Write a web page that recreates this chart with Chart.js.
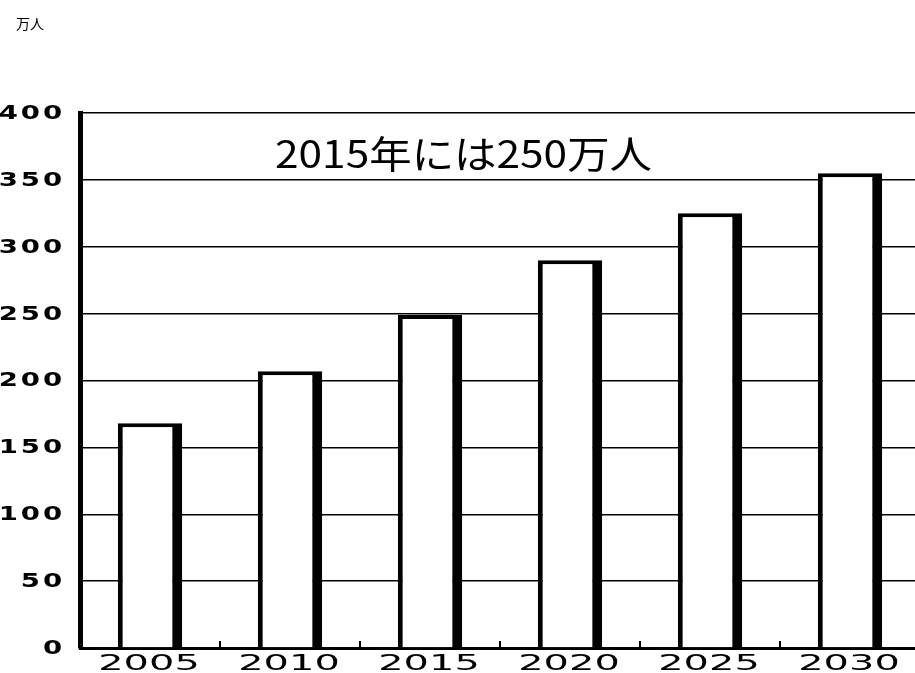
<!DOCTYPE html>
<html>
<head>
<meta charset="utf-8">
<script src="https://cdn.jsdelivr.net/npm/chart.js@4.4.0/dist/chart.umd.min.js"></script>
<style>
    html, body { margin: 0; padding: 0; background: #fff; overflow: hidden; }
    #wrap { position: relative; width: 915px; height: 673px; overflow: hidden; }
    #unit { position: absolute; left: 16px; top: 13px; font: 14px "Noto Sans CJK JP", sans-serif; color: #000; }
    canvas { position: absolute; left: 0; top: 0; }
</style>
</head>
<body>
<div id="wrap">
    <canvas id="popChart" width="920" height="673"></canvas>
    <div id="unit">万人</div>
</div>
<script>
// Data
const years = ['2005', '2010', '2015', '2020', '2025', '2030'];
const people = [168, 207, 249, 290, 325, 355];   // 万人
const yMax = 400;
const yStep = 50;
const note = '2015年には250万人';

// Wide, stretched labels like the scanned original
const wideLabels = {
    id: 'wideLabels',
    afterDraw(chart) {
        const ctx = chart.ctx;
        const xs = chart.scales.x;
        const ys = chart.scales.y;
        const area = chart.chartArea;

        ctx.save();
        ctx.fillStyle = '#000';
        ctx.strokeStyle = '#000';

        // small tick marks between categories, pointing up
        ctx.lineWidth = 2;
        for (let i = 1; i < years.length; i++) {
            const x = (xs.getPixelForValue(i - 1) + xs.getPixelForValue(i)) / 2;
            ctx.beginPath();
            ctx.moveTo(x, area.bottom);
            ctx.lineTo(x, area.bottom - 7);
            ctx.stroke();
        }

        // x labels
        ctx.font = '21px "DejaVu Sans"';
        ctx.letterSpacing = '0px';
        ctx.textAlign = 'center';
        ctx.textBaseline = 'middle';
        years.forEach((y, i) => {
            ctx.save();
            ctx.translate(xs.getPixelForValue(i) - 1, area.bottom + 17);
            ctx.scale(1.9, 1);
            ctx.fillText(y, 0, 0);
            ctx.restore();
        });

        // y labels
        ctx.font = 'bold 19px "DejaVu Sans"';
        ctx.letterSpacing = '2px';
        ctx.textAlign = 'right';
        for (let v = 0; v <= yMax; v += yStep) {
            ctx.save();
            ctx.translate(65, ys.getPixelForValue(v) + 1);
            ctx.scale(1.45, 1);
            ctx.fillText(String(v), 0, 0);
            ctx.restore();
        }

        // note inside the plot
        ctx.letterSpacing = '0px';
        ctx.font = '38px "Noto Sans CJK JP"';
        ctx.textAlign = 'left';
        const w = ctx.measureText(note).width;
        ctx.save();
        ctx.translate(275, 154);
        ctx.scale(377 / w, 1);
        ctx.fillText(note, 0, 0);
        ctx.restore();

        ctx.restore();
    }
};

const ctx = document.getElementById('popChart').getContext('2d');
const popChart = new Chart(ctx, {
    type: 'bar',
    data: {
        labels: years,
        datasets: [{
            data: people,
            backgroundColor: '#fff',
            borderColor: '#000',
            borderWidth: { top: 4, left: 5, right: 10, bottom: 0 },
            borderSkipped: false,
            barPercentage: 0.46,
            categoryPercentage: 1
        }]
    },
    options: {
        responsive: false,
        animation: false,
        layout: { padding: { top: 113, left: 0, right: 0, bottom: 0 } },
        plugins: {
            legend: { display: false },
            tooltip: { enabled: false }
        },
        scales: {
            x: {
                ticks: { display: false },
                grid: { display: false },
                border: { display: true, color: '#000', width: 3 },
                afterFit(scale) { scale.height = 25; }
            },
            y: {
                min: 0,
                max: yMax,
                ticks: { display: false, stepSize: yStep },
                grid: { color: '#000', lineWidth: 1.5, drawTicks: false },
                border: { display: true, color: '#000', width: 5 },
                afterFit(scale) { scale.width = 80; }
            }
        }
    },
    plugins: [wideLabels]
});
</script>
</body>
</html>
